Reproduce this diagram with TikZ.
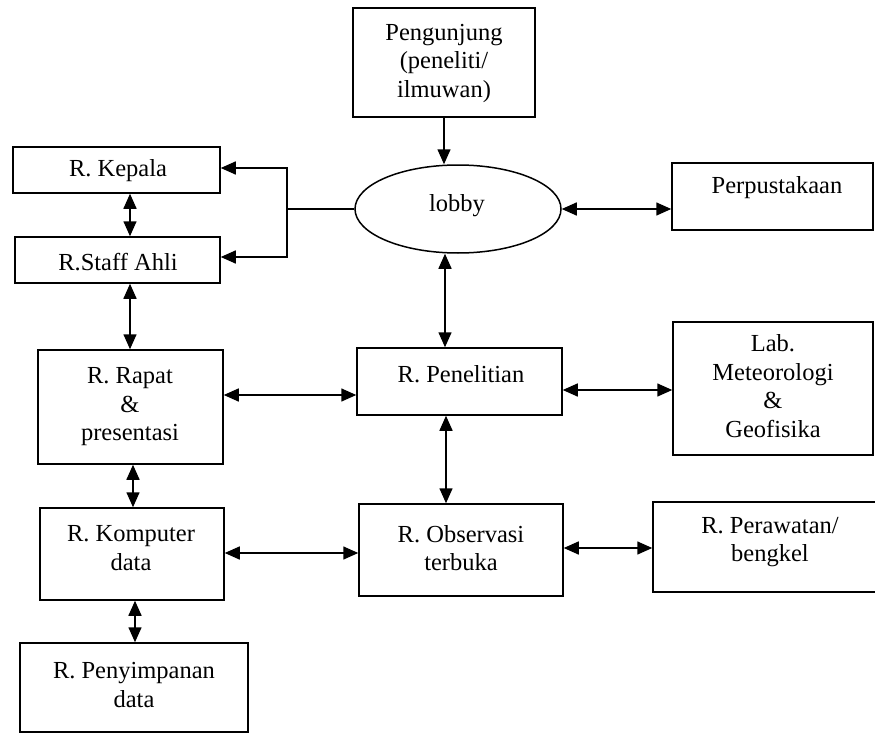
\documentclass[tikz,border=0pt]{standalone}
\usepackage{fontspec}
\setmainfont{Liberation Serif}
\usetikzlibrary{arrows.meta,shapes.geometric}
\begin{document}
\begin{tikzpicture}[x=1pt,y=-1pt,
  box/.style={draw, rectangle, line width=1.5pt, inner sep=0pt},
  oval/.style={draw, ellipse, line width=1.5pt, inner sep=0pt},
  txt/.style={align=center, inner sep=0pt, font=\fontsize{24.5}{28.5}\selectfont},
  tip/.tip={Triangle[length=15pt,width=13pt]},
  dbl/.style={tip-tip, line width=1.5pt},
  sgl/.style={-tip, line width=1.5pt},
  ln/.style={line width=1.5pt}]
\useasboundingbox (0,0) rectangle (875,733);
\clip (0,0) rectangle (875,733);
% boxes
\node[box, minimum width=182pt, minimum height=109pt] (peng) at (444,62.5) {};
\node[oval, minimum width=206pt, minimum height=88pt] (lobby) at (458,209) {};
\node[box, minimum width=207pt, minimum height=46pt] (kep) at (116.5,170) {};
\node[box, minimum width=205pt, minimum height=46pt] (staff) at (117.5,260) {};
\node[box, minimum width=185pt, minimum height=114pt] (rap) at (130.5,407) {};
\node[box, minimum width=184pt, minimum height=92pt] (kom) at (132,554) {};
\node[box, minimum width=228pt, minimum height=89pt] (peny) at (134,687.5) {};
\node[box, minimum width=205pt, minimum height=67pt] (pen) at (459.5,381.5) {};
\node[box, minimum width=204pt, minimum height=92pt] (obs) at (461,550) {};
\node[box, minimum width=201pt, minimum height=67pt] (pus) at (772.5,196.5) {};
\node[box, minimum width=200pt, minimum height=133pt] (lab) at (773,388.5) {};
\node[box, minimum width=227pt, minimum height=90pt] (per) at (766.5,547) {};
% texts
\node[txt] (peng-t) at (444,63) {Pengunjung\\(peneliti/\\ilmuwan)};
\node[txt] (lobby-t) at (457,206) {lobby};
\node[txt] (kep-t) at (118,171) {R. Kepala};
\node[txt] (staff-t) at (118,262) {R.Staff Ahli};
\node[txt] (rap-t) at (130,407) {R. Rapat\\\&\\presentasi};
\node[txt] (kom-t) at (131,548) {R. Komputer\\data};
\node[txt] (peny-t) at (134,685) {R. Penyimpanan\\data};
\node[txt] (pen-t) at (461,374) {R. Penelitian};
\node[txt] (obs-t) at (461,548) {R. Observasi\\terbuka};
\node[txt] (pus-t) at (777,188) {Perpustakaan};
\node[txt] (lab-t) at (773,386) {Lab.\\Meteorologi\\\&\\Geofisika};
\node[txt] (per-t) at (770,542) {R. Perawatan/\\bengkel};
% connectors
\coordinate (j) at (287,209);
\draw[sgl] (peng.south) -- (peng.south |- lobby.north);
\draw[ln] (lobby.west) -- (j);
\draw[sgl] (j) |- (kep.east |- 0,168);
\draw[sgl] (j) |- (staff.east |- 0,257);
\draw[dbl] (kep.south -| 130,0) -- (staff.north -| 130,0);
\draw[dbl] (staff.south -| 130,0) -- (rap.north -| 130,0);
\draw[dbl] (rap.south -| 133,0) -- (kom.north -| 133,0);
\draw[dbl] (kom.south -| 135,0) -- (peny.north -| 135,0);
\draw[dbl] (lobby.east) -- (pus.west |- lobby.east);
\draw[dbl] (lobby.south -| 445,0) -- (pen.north -| 445,0);
\draw[dbl] (pen.south -| 446,0) -- (obs.north -| 446,0);
\draw[dbl] (rap.east |- 0,395) -- (pen.west |- 0,395);
\draw[dbl] (pen.east |- 0,390) -- (lab.west |- 0,390);
\draw[dbl] (kom.east |- 0,553) -- (obs.west |- 0,553);
\draw[dbl] (obs.east |- 0,548) -- (per.west |- 0,548);
\end{tikzpicture}
\end{document}
